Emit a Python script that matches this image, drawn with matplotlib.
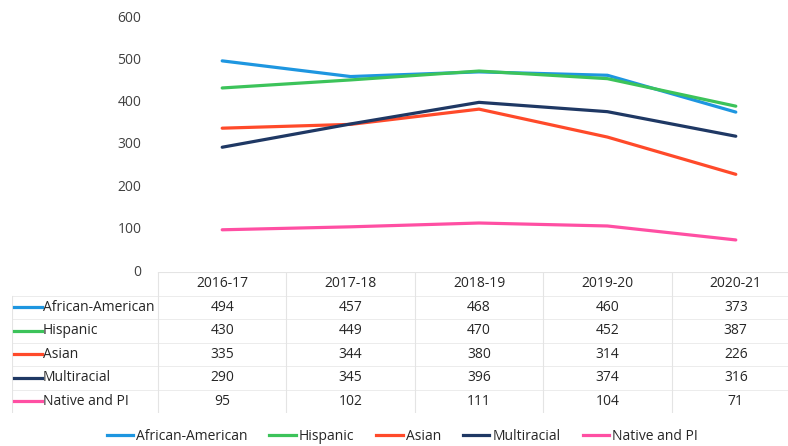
import matplotlib
matplotlib.use('Agg')
import matplotlib.pyplot as plt
from matplotlib.lines import Line2D
import numpy as np

plt.rcParams['font.family'] = ['Open Sans', 'DejaVu Sans']

YEARS = ["2016-17", "2017-18", "2018-19", "2019-20", "2020-21"]
GROUPS = ["African-American", "Hispanic", "Asian", "Multiracial", "Native and PI"]
african_american = [494, 457, 468, 460, 373]
hispanic = [430, 449, 470, 452, 387]
asian = [335, 344, 380, 314, 226]
multiracial = [290, 345, 396, 374, 316]
native_pi = [95, 102, 111, 104, 71]
SERIES = [african_american, hispanic, asian, multiracial, native_pi]
COLORS = ["#1e96e0", "#3cc35a", "#ff4a2a", "#1f3864", "#ff4fa3"]

W, H = 788, 446
fig = plt.figure(figsize=(W / 100, H / 100), dpi=100)

# main plot area (pixel geometry -> figure fractions)
px_left, px_right = 158, 800
px_top, px_zero = 16, 270
ax = fig.add_axes([px_left / W, 1 - px_zero / H, (px_right - px_left) / W, (px_zero - px_top) / H])
x = np.arange(len(YEARS))
for vals, col, name in zip(SERIES, COLORS, GROUPS):
    ax.plot(x, vals, color=col, lw=2.3, label=name, solid_capstyle='round')
ax.set_xlim(-0.5, len(YEARS) - 0.5)
ax.set_ylim(0, 600)
ax.set_yticks(range(0, 601, 100))
ax.tick_params(axis='y', length=0, labelsize=10, labelcolor="#404040", pad=12)
ax.set_xticks([])
for s in ax.spines.values():
    s.set_visible(False)

# data table below the plot
tab_left, tab_top, tab_bottom = 12, 272, 413
unit = (px_right - px_left) / len(YEARS)
x_lo = -0.5 - (px_left - tab_left) / unit
tax = fig.add_axes([tab_left / W, 1 - tab_bottom / H, (px_right - tab_left) / W, (tab_bottom - tab_top) / H])
tax.set_xlim(x_lo, len(YEARS) - 0.5)
nrows = len(GROUPS) + 1
tax.set_ylim(nrows, 0)
tax.axis('off')

grid = "#e4e4e4"
for b in np.arange(-0.5, len(YEARS), 1.0):
    tax.plot([b, b], [0, nrows], color=grid, lw=0.8)
tax.plot([x_lo, x_lo], [1, nrows], color=grid, lw=0.8)
tax.plot([-0.5, len(YEARS) - 0.5], [0, 0], color=grid, lw=0.8)
for r in range(1, nrows + 1):
    tax.plot([x_lo, len(YEARS) - 0.5], [r, r], color=grid, lw=0.5)

for i, yr in enumerate(YEARS):
    tax.text(i, 0.5, yr, ha='center', va='center', fontsize=10, color="#262626")
key_len = 28 / unit
for r, (name, vals, col) in enumerate(zip(GROUPS, SERIES, COLORS), start=1):
    tax.plot([x_lo + 2 / unit, x_lo + 2 / unit + key_len], [r + 0.5, r + 0.5], color=col, lw=2.3)
    tax.text(x_lo + 3 / unit + key_len, r + 0.5, name, ha='left', va='center', fontsize=10, color="#262626")
    for i, v in enumerate(vals):
        tax.text(i, r + 0.5, str(v), ha='center', va='center', fontsize=10, color="#262626")

handles = [Line2D([0], [0], color=c, lw=2.3) for c in COLORS]
fig.legend(handles, GROUPS, loc='center', bbox_to_anchor=(402 / W, 1 - 436 / H), ncol=5, frameon=False,
           fontsize=10, labelcolor="#262626", handlelength=1.9, handletextpad=0.2, columnspacing=1.6,
           borderpad=0)

plt.savefig("out.png", dpi=100)
